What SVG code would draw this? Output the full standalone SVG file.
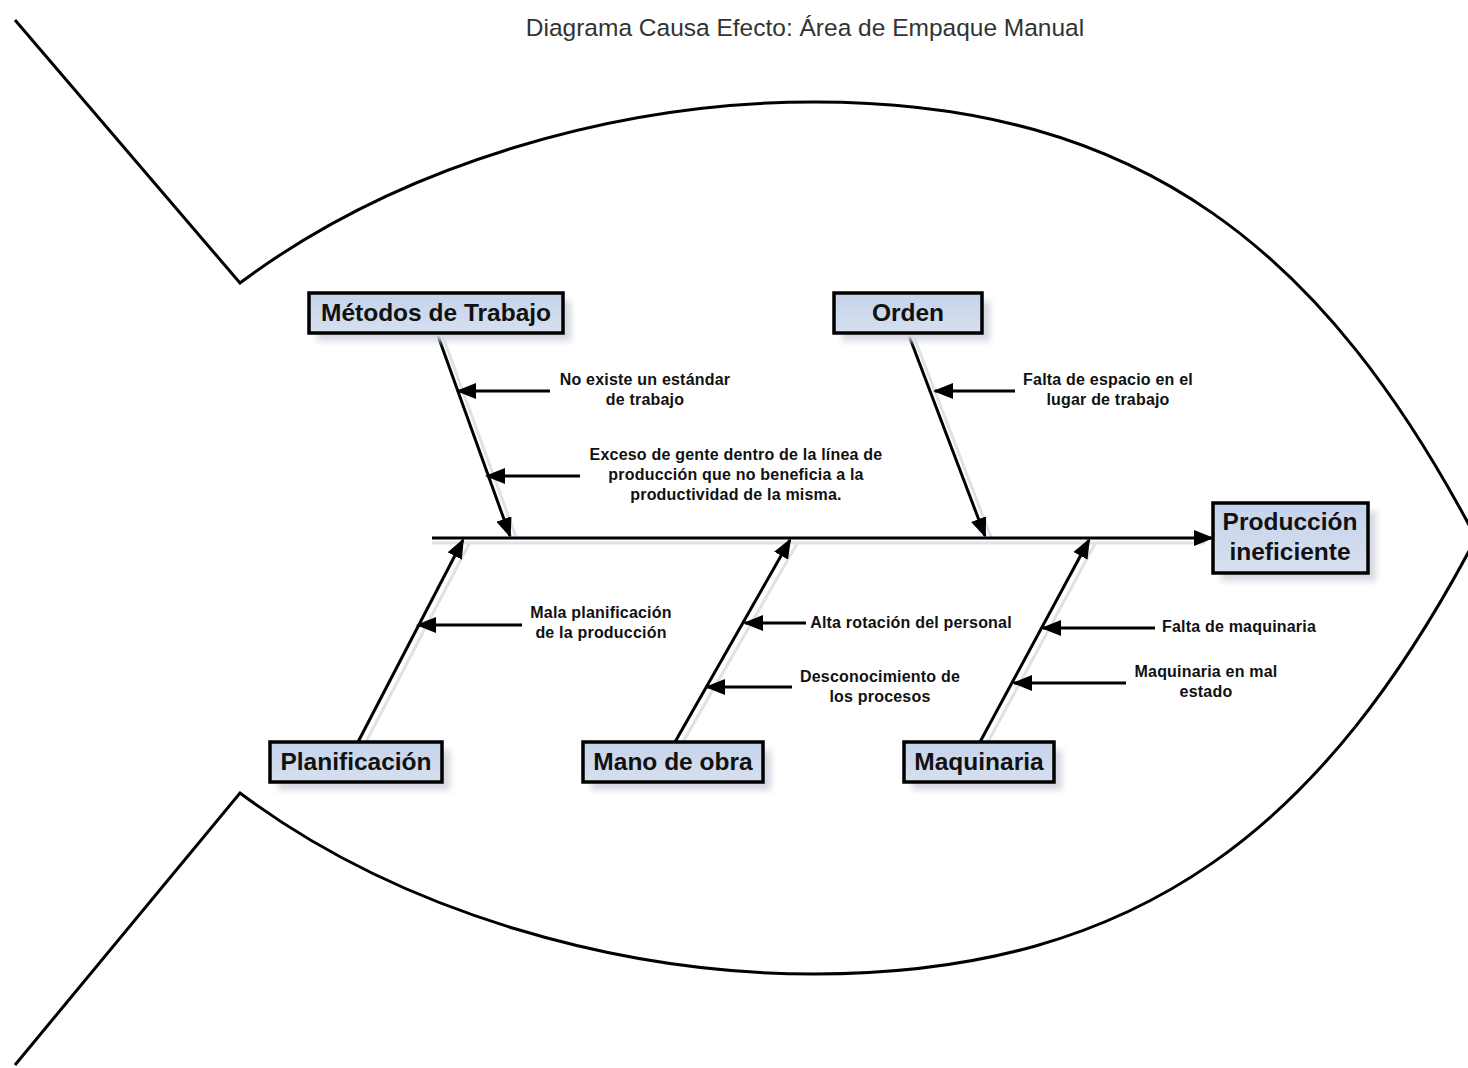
<svg xmlns="http://www.w3.org/2000/svg" width="1468" height="1068" viewBox="0 0 1468 1068">
  <defs>
    <linearGradient id="boxFill" x1="0" y1="0" x2="0" y2="1">
      <stop offset="0" stop-color="#c4d2ea"/>
      <stop offset="1" stop-color="#d8e0ef"/>
    </linearGradient>
    <filter id="soft" x="-20%" y="-20%" width="140%" height="160%">
      <feGaussianBlur stdDeviation="3"/>
    </filter>
    <marker id="head" viewBox="0 0 20 16" refX="18" refY="8" markerWidth="20" markerHeight="16" markerUnits="userSpaceOnUse" orient="auto">
      <path d="M0,0 L20,8 L0,16 Z" fill="#000"/>
    </marker>
    <style>
      .outline { fill: none; stroke: #000; stroke-width: 3; }
      .box { fill: url(#boxFill); stroke: #000; stroke-width: 3.5; }
      .shadow { fill: #d4d8e0; filter: url(#soft); }
      .boxText { font-family: "Liberation Sans", Arial, sans-serif; font-weight: bold; font-size: 24.5px; fill: #111; text-anchor: middle; }
      .cause { font-family: "Liberation Sans", Arial, sans-serif; font-weight: bold; font-size: 16px; letter-spacing: 0.2px; fill: #111; text-anchor: middle; }
      .bone { stroke: #000; stroke-width: 3; fill: none; marker-end: url(#head); }
      .boneShadow { stroke: #dde2ea; stroke-width: 3; fill: none; }
      .title { font-family: "Liberation Sans", Arial, sans-serif; font-size: 24.5px; fill: #333; text-anchor: middle; }
    </style>
  </defs>

  <rect width="1468" height="1068" fill="#fff"/>

  <text class="title" x="805" y="36">Diagrama Causa Efecto: Área de Empaque Manual</text>

  <!-- fish body and tail -->
  <g id="fish">
    <path class="outline" d="M15,20 L240,283 C400,163 620,102 814,102 C1144,102 1326,253 1476,538"/>
    <path class="outline" d="M15,1065 L240,793 C400,913 620,974 814,974 C1144,974 1326,823 1476,538"/>
  </g>

  <!-- connectors -->
  <g id="connectors">
    <!-- shadows of main bones -->
    <line class="boneShadow" x1="443" y1="337" x2="516" y2="537"/>
    <line class="boneShadow" x1="914" y1="337" x2="991" y2="537"/>
    <line class="boneShadow" x1="366" y1="742" x2="470" y2="542"/>
    <line class="boneShadow" x1="683" y1="742" x2="798" y2="542"/>
    <line class="boneShadow" x1="988" y1="742" x2="1096" y2="542"/>
    <line class="boneShadow" x1="432" y1="543" x2="1205" y2="543"/>

    <!-- spine -->
    <line class="bone" x1="432" y1="538" x2="1212" y2="538"/>

    <!-- main bones -->
    <line class="bone" x1="437" y1="333" x2="510" y2="536"/>
    <line class="bone" x1="908" y1="333" x2="985" y2="536"/>
    <line class="bone" x1="358" y1="742" x2="463" y2="540"/>
    <line class="bone" x1="675" y1="742" x2="790" y2="540"/>
    <line class="bone" x1="980" y1="742" x2="1089" y2="540"/>

    <!-- cause arrows -->
    <line class="bone" x1="550" y1="391" x2="458" y2="391"/>
    <line class="bone" x1="580" y1="476" x2="487" y2="476"/>
    <line class="bone" x1="1015" y1="391" x2="935" y2="391"/>
    <line class="bone" x1="522" y1="625" x2="418" y2="625"/>
    <line class="bone" x1="806" y1="623" x2="745" y2="623"/>
    <line class="bone" x1="792" y1="687" x2="707" y2="687"/>
    <line class="bone" x1="1155" y1="628" x2="1043" y2="628"/>
    <line class="bone" x1="1126" y1="683" x2="1014" y2="683"/>
  </g>

  <!-- category boxes -->
  <g id="metodos">
    <rect class="shadow" x="317" y="301" width="254" height="40"/>
    <rect class="box" x="309" y="293" width="254" height="40"/>
    <text class="boxText" x="436" y="321">Métodos de Trabajo</text>
  </g>
  <g id="orden">
    <rect class="shadow" x="842" y="301" width="148" height="40"/>
    <rect class="box" x="834" y="293" width="148" height="40"/>
    <text class="boxText" x="908" y="321">Orden</text>
  </g>
  <g id="produccion">
    <rect class="shadow" x="1221" y="511" width="155" height="70"/>
    <rect class="box" x="1213" y="503" width="155" height="70"/>
    <text class="boxText" x="1290" y="530">Producción</text>
    <text class="boxText" x="1290" y="560">ineficiente</text>
  </g>
  <g id="planificacion">
    <rect class="shadow" x="278" y="750" width="172" height="40"/>
    <rect class="box" x="270" y="742" width="172" height="40"/>
    <text class="boxText" x="356" y="770">Planificación</text>
  </g>
  <g id="mano-de-obra">
    <rect class="shadow" x="591" y="750" width="180" height="40"/>
    <rect class="box" x="583" y="742" width="180" height="40"/>
    <text class="boxText" x="673" y="770">Mano de obra</text>
  </g>
  <g id="maquinaria">
    <rect class="shadow" x="912" y="750" width="150" height="40"/>
    <rect class="box" x="904" y="742" width="150" height="40"/>
    <text class="boxText" x="979" y="770">Maquinaria</text>
  </g>

  <!-- cause labels -->
  <g id="causa-estandar">
    <text class="cause" x="645" y="385">No existe un estándar</text>
    <text class="cause" x="645" y="405">de trabajo</text>
  </g>
  <g id="causa-exceso">
    <text class="cause" x="736" y="460">Exceso de gente dentro de la línea de</text>
    <text class="cause" x="736" y="480">producción que no beneficia a la</text>
    <text class="cause" x="736" y="500">productividad de la misma.</text>
  </g>
  <g id="causa-espacio">
    <text class="cause" x="1108" y="385">Falta de espacio en el</text>
    <text class="cause" x="1108" y="405">lugar de trabajo</text>
  </g>
  <g id="causa-planificacion">
    <text class="cause" x="601" y="618">Mala planificación</text>
    <text class="cause" x="601" y="638">de la producción</text>
  </g>
  <g id="causa-rotacion">
    <text class="cause" x="911" y="628">Alta rotación del personal</text>
  </g>
  <g id="causa-procesos">
    <text class="cause" x="880" y="682">Desconocimiento de</text>
    <text class="cause" x="880" y="702">los procesos</text>
  </g>
  <g id="causa-falta-maquinaria">
    <text class="cause" x="1239" y="632">Falta de maquinaria</text>
  </g>
  <g id="causa-mal-estado">
    <text class="cause" x="1206" y="677">Maquinaria en mal</text>
    <text class="cause" x="1206" y="697">estado</text>
  </g>
</svg>
